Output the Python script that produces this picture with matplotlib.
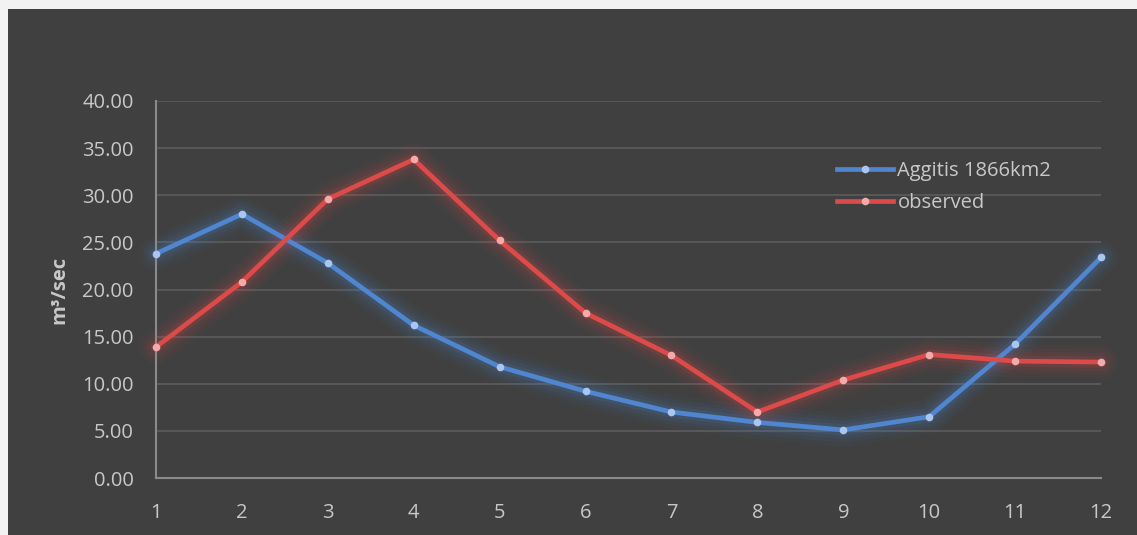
import matplotlib
matplotlib.use("Agg")
import matplotlib.pyplot as plt
from matplotlib.patches import Rectangle
from matplotlib.lines import Line2D

months = [1, 2, 3, 4, 5, 6, 7, 8, 9, 10, 11, 12]
aggitis = [23.8, 28.0, 22.8, 16.2, 11.8, 9.2, 7.0, 5.9, 5.1, 6.5, 14.2, 23.4]
observed = [13.9, 20.8, 29.6, 33.8, 25.2, 17.5, 13.0, 7.0, 10.4, 13.1, 12.4, 12.3]
yticks = [0, 5, 10, 15, 20, 25, 30, 35, 40]
series_names = ["Aggitis 1866km2", "observed"]

plt.rcParams['font.family'] = ['Open Sans', 'DejaVu Sans']

W, H = 1137, 535
fig = plt.figure(figsize=(W / 100, H / 100), dpi=100)
fig.patch.set_facecolor("#f2f2f2")
bg = "#404040"
fig.patches.append(Rectangle((8 / W, 0), 1 - 8 / W, 1 - 9 / H, transform=fig.transFigure,
                             facecolor=bg, edgecolor="none", zorder=-5))

ax = fig.add_axes([156 / W, (H - 478) / H, (1101 - 156) / W, (478 - 101) / H])
ax.set_zorder(2)
ax.patch.set_alpha(0)

blue, red = "#4f86cf", "#dc4a4a"
blue_m, red_m = "#aac6ee", "#f4aaaa"
fs = 14.5
txt = "#c8c8c8"

for vals, col, mcol in [(aggitis, blue, blue_m), (observed, red, red_m)]:
    # soft glow under each line
    for lw, a in [(24, 0.045), (18, 0.06), (13, 0.08), (8, 0.12)]:
        ax.plot(months, vals, color=col, lw=lw, alpha=a, solid_capstyle='round',
                solid_joinstyle='round', zorder=2, clip_on=False)
    ax.plot(months, vals, color=col, lw=3.4, solid_joinstyle='round', zorder=3, clip_on=False)
    ax.plot(months, vals, ls='none', marker='o', ms=5.5, color=mcol, mec='none', zorder=4,
            clip_on=False)

ax.set_xlim(1, 12)
ax.set_ylim(0, 40)
ax.set_yticks(yticks)
ax.set_yticklabels([f"{v:.2f}" for v in yticks])
ax.set_xticks(months)
ax.grid(axis='y', color="#5c5c5c", lw=1.2, zorder=1)
ax.set_axisbelow(True)
for s in ['top', 'right']:
    ax.spines[s].set_visible(False)
for s in ['left', 'bottom']:
    ax.spines[s].set_color("#8a8a8a")
    ax.spines[s].set_linewidth(1.5)
ax.tick_params(length=0, colors=txt, labelsize=fs)
ax.tick_params(axis='y', pad=16)
ax.tick_params(axis='x', pad=18)

ax.set_ylabel("m³/sec", color=txt, fontsize=fs, fontweight='bold', labelpad=9)

handles = [Line2D([], [], color=blue, lw=3.4, marker='o', ms=5.5, mfc=blue_m, mec='none'),
           Line2D([], [], color=red, lw=3.4, marker='o', ms=5.5, mfc=red_m, mec='none')]
leg = ax.legend(handles, series_names, loc='upper left', bbox_to_anchor=(0.7206, 0.842),
                frameon=False, fontsize=fs, labelcolor=txt, handlelength=2.8,
                handletextpad=0.2, labelspacing=0.6, borderpad=0, borderaxespad=0)

fig.savefig("out.png", dpi=100, facecolor=fig.get_facecolor())
